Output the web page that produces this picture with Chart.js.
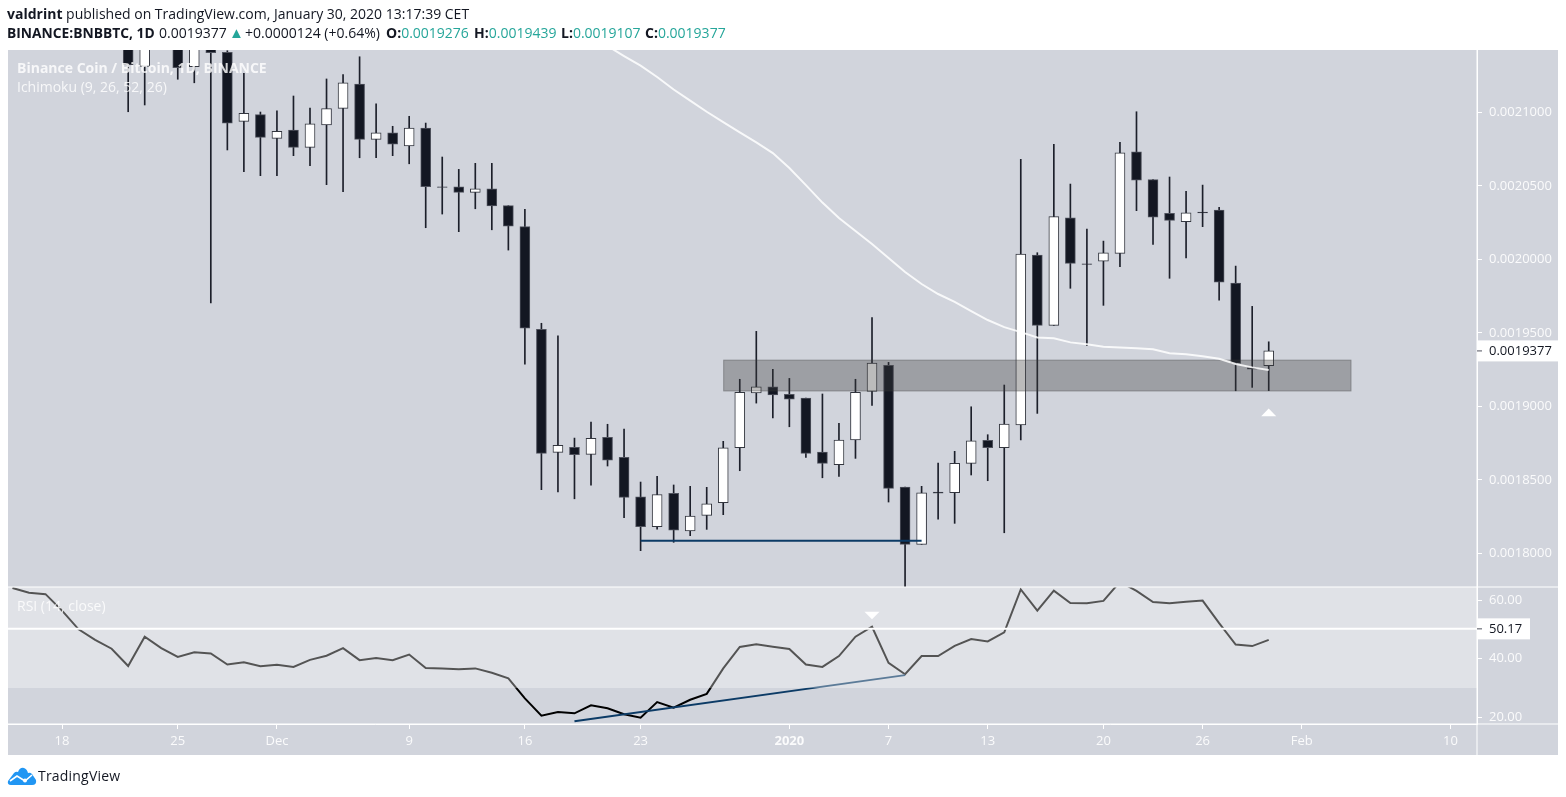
<!DOCTYPE html>
<html>
<head>
<meta charset="utf-8">
<title>BNBBTC</title>
<script src="https://cdn.jsdelivr.net/npm/chart.js@4"></script>
<style>
    html, body { margin: 0; padding: 0; background: #fff; width: 1566px; height: 797px; overflow: hidden; }
    body { font-family: "Open Sans", sans-serif; font-size: 14px; color: #131722; }
    #panel { position: absolute; left: 8px; top: 50px; width: 1550px; height: 705px; background: #d1d4dc; }
    canvas { position: absolute; left: 0; top: 0; }
    .t { position: absolute; white-space: nowrap; line-height: 18px; }
    .b { font-weight: 700; }
    .g { color: #26a69a; }
    .w { color: rgba(255, 255, 255, 0.82); }
</style>
</head>
<body>
<div id="panel"></div>
<canvas id="chart" width="1566" height="797"></canvas>

<div class="t" style="left:7px;top:5px"><span class="b">valdrint</span> published on TradingView.com, January 30, 2020 13:17:39 CET</div>
<div class="t b" style="left:7px;top:24px;font-size:13.8px">BINANCE:BNBBTC, 1D</div>
<div class="t" style="left:159px;top:24px">0.0019377</div>
<div class="t g" style="left:229px;top:23px;font-size:15px">&#9650;</div>
<div class="t" style="left:245px;top:24px">+0.0000124 (+0.64%)</div>
<div class="t" style="left:386px;top:24px"><span class="b">O:</span><span class="g">0.0019276</span></div>
<div class="t" style="left:474px;top:24px"><span class="b">H:</span><span class="g">0.0019439</span></div>
<div class="t" style="left:561px;top:24px"><span class="b">L:</span><span class="g">0.0019107</span></div>
<div class="t" style="left:645px;top:24px"><span class="b">C:</span><span class="g">0.0019377</span></div>

<div class="t w b" style="left:17px;top:59px">Binance Coin / Bitcoin, 1D, BINANCE</div>
<div class="t w" style="left:17px;top:78px">Ichimoku (9, 26, 52, 26)</div>
<div class="t w" style="left:17px;top:597px">RSI (14, close)</div>

<svg style="position:absolute;left:7px;top:767px" width="30" height="19" viewBox="0 0 30 19">
    <path d="M1 14 L7 6 Q9 4 11 5 Q13 0 17 1 Q20 2 21 6 Q23 5 25 7 L29 13 Q30 18 25 18 L4 18 Q0 18 1 14 Z" fill="#2196f3"/>
    <path d="M3 14 L10 9 L18 14 L25 8" fill="none" stroke="#fff" stroke-width="1.6"/>
    <circle cx="18" cy="13.5" r="2" fill="#fff"/>
</svg>
<div class="t" style="left:38px;top:767px;font-size:14px;letter-spacing:0.2px">TradingView</div>

<script>
// Prices are in units of 0.0000001 BTC, one entry per day
const firstCandleDay = -9; // day 0 = Dec 1 2019
const opens = [21492, 21312, 21600, 21526, 21310, 21440, 21408, 20939, 20984, 20823,
    20880, 20762, 20914, 21027, 21193, 20816, 20861, 20771, 20893, 20494,
    20494, 20456, 20480, 20365, 20222, 19524, 18687, 18721, 18673, 18789,
    18653, 18385, 18181, 18408, 18152, 18258, 18344, 18718, 19092, 19133,
    19082, 19056, 18689, 18603, 18771, 19102, 19279, 18451, 18061, 18417,
    18412, 18612, 18769, 18718, 18873, 20029, 19551, 20283, 19970, 19988,
    20041, 20732, 20542, 20313, 20256, 20322, 20335, 19839, 19263, 19276];
const highs = [21560, 21600, 21650, 21600, 21520, 21470, 21419, 21265, 21002, 21011,
    21111, 21029, 21227, 21256, 21378, 21057, 20905, 20973, 20927, 20696,
    20612, 20653, 20653, 20365, 20340, 19565, 19480, 18784, 18893, 18878,
    18846, 18485, 18524, 18465, 18456, 18449, 18762, 19184, 19510, 19252,
    19190, 19056, 19084, 18884, 19184, 19603, 19299, 18451, 18456, 18614,
    18694, 18997, 18807, 19145, 20680, 20045, 20782, 20512, 20206, 20124,
    20796, 21004, 20542, 20560, 20463, 20505, 20354, 19954, 19680, 19439];
const lows = [21004, 21050, 21440, 21225, 21201, 19703, 20744, 20596, 20569, 20569,
    20705, 20637, 20508, 20460, 20691, 20691, 20705, 20650, 20215, 20308,
    20188, 20344, 20201, 20063, 19286, 18433, 18417, 18371, 18463, 18594,
    18242, 18018, 18165, 18075, 18120, 18163, 18263, 18562, 19022, 18922,
    18861, 18653, 18514, 18524, 18646, 19007, 18349, 17740, 18061, 18233,
    18204, 18533, 18494, 18140, 18771, 18952, 19551, 19803, 19412, 19687,
    19950, 20331, 20102, 19871, 20009, 20222, 19723, 19106, 19129, 19107];
const closes = [21322, 21526, 21480, 21303, 21480, 21405, 20927, 20993, 20830, 20871,
    20762, 20922, 21025, 21201, 20816, 20861, 20784, 20893, 20494, 20490,
    20456, 20480, 20363, 20225, 19531, 18680, 18735, 18671, 18782, 18633,
    18381, 18181, 18399, 18158, 18254, 18337, 18718, 19095, 19133, 19077,
    19048, 18680, 18612, 18771, 19095, 19295, 18442, 18061, 18412, 18410,
    18612, 18766, 18718, 18880, 20036, 19551, 20290, 19973, 19965, 20045,
    20725, 20539, 20286, 20265, 20317, 20316, 19844, 19292, 19253, 19377];

// White moving average on the price pane
const avgFirstDay = 20;
const avgValues = [21451, 21383, 21318, 21240, 21155, 21080, 21004, 20934, 20864, 20795,
    20723, 20621, 20505, 20386, 20281, 20193, 20104, 20009, 19914, 19832,
    19764, 19710, 19648, 19587, 19539, 19505, 19469, 19463, 19435, 19422,
    19405, 19401, 19395, 19388, 19361, 19354, 19340, 19324, 19288, 19265, 19247];

const rsiFirstDay = -16;
const rsiValues = [64.1, 62.5, 62.0, 56.4, 50.0, 46.4, 43.4, 37.5, 47.5, 43.6,
    40.6, 42.2, 41.8, 38.0, 38.8, 37.4, 37.9, 37.2, 39.6, 41.0,
    43.6, 39.5, 40.2, 39.5, 41.4, 36.8, 36.7, 36.4, 36.7, 35.2,
    33.3, 26.5, 20.6, 21.8, 21.4, 24.1, 23.1, 21.1, 19.9, 25.2,
    23.3, 26.0, 28.0, 36.7, 44.0, 44.9, 44.1, 43.3, 38.0, 37.2,
    40.9, 47.5, 50.9, 38.6, 34.7, 40.9, 40.9, 44.4, 46.7, 45.9,
    49.0, 63.6, 56.4, 63.2, 59.0, 58.9, 59.7, 66.2, 63.1, 59.3,
    58.9, 59.4, 59.8, 52.1, 44.8, 44.3, 46.4];

// Drawn objects: [day, value] pairs
const supportLine = [[22, 18086], [39, 18086]];
const rsiTrendLine = [[18, 18.7], [38, 34.4]];
const rsiLevel = 50.17;
const zoneDays = [27, 65];
const zonePrices = [19102, 19317];
const rsiBand = [30, 70];
const priceArrow = [60, 18959];
const rsiArrow = [36, 54.7];
const lastPrice = 19377;

// Axes
const tickDays = [-13, -6, 0, 8, 15, 22, 31, 37, 43, 50, 56, 62, 71];
const tickLabels = ['18', '25', 'Dec', '9', '16', '23', '2020', '7', '13', '20', '26', 'Feb', '10'];
const priceTicks = [18000, 18500, 19000, 19500, 20000, 20500, 21000];
const rsiTicks = [20, 40, 60];

const axisColor = 'rgba(255,255,255,0.9)';
const axisFont = { family: '"Open Sans", sans-serif', size: 13 };

function fixAxisWidth(scale) {
    scale.width = 81;
}

function series(first, values) {
    return values.map((v, i) => ({ x: first + i, y: v }));
}

function flatTriangle(ctx, x, y, up) {
    const dir = up ? -1 : 1;
    ctx.beginPath();
    ctx.moveTo(x - 7.5, y - dir * 3.8);
    ctx.lineTo(x + 7.5, y - dir * 3.8);
    ctx.lineTo(x, y + dir * 3.8);
    ctx.closePath();
    ctx.fillStyle = '#fff';
    ctx.fill();
}

function priceTag(ctx, scale, y, text, width) {
    const x = scale.left;
    ctx.fillStyle = '#fff';
    ctx.fillRect(x, y - 10.5, width, 21);
    ctx.fillStyle = '#50535e';
    ctx.fillRect(x, y - 0.5, 5, 1);
    ctx.fillStyle = '#131722';
    ctx.font = '13px "Open Sans", sans-serif';
    ctx.textBaseline = 'middle';
    ctx.textAlign = 'left';
    ctx.fillText(text, x + 12, y);
}

// Zone and RSI band sit on top of the marks below them, so they hook in between datasets
const overlayPlugin = {
    id: 'overlays',
    afterDatasetDraw(chart, args) {
        const { ctx, scales } = chart;
        const { x, y, rsi } = scales;
        const label = chart.data.datasets[args.index].label;
        ctx.save();
        if (label === 'bodies') {
            const left = x.getPixelForValue(zoneDays[0]);
            const right = x.getPixelForValue(zoneDays[1]);
            const top = y.getPixelForValue(zonePrices[1]);
            const bottom = y.getPixelForValue(zonePrices[0]);
            ctx.fillStyle = 'rgba(60,60,60,0.35)';
            ctx.fillRect(left, top, right - left, bottom - top);
            ctx.strokeStyle = 'rgba(60,60,60,0.25)';
            ctx.strokeRect(left + 0.5, top + 0.5, right - left - 1, bottom - top - 1);
        }
        if (label === 'trend') {
            const top = Math.max(rsi.getPixelForValue(rsiBand[1]), rsi.top);
            const bottom = rsi.getPixelForValue(rsiBand[0]);
            ctx.fillStyle = 'rgba(255,255,255,0.33)';
            ctx.fillRect(x.left, top, x.right - x.left, bottom - top);
        }
        ctx.restore();
    },
    afterDraw(chart) {
        const { ctx, scales } = chart;
        const { x, y, rsi } = scales;
        ctx.save();
        // pane separators run the full width of the panel
        ctx.fillStyle = '#fff';
        ctx.fillRect(x.left, y.bottom - 0.5, 1550, 1);
        ctx.fillRect(x.left, rsi.bottom - 0.5, 1550, 1);
        ctx.fillRect(x.right - 0.5, y.top, 1, x.bottom - y.top);
        flatTriangle(ctx, x.getPixelForValue(priceArrow[0]), y.getPixelForValue(priceArrow[1]), true);
        flatTriangle(ctx, x.getPixelForValue(rsiArrow[0]), rsi.getPixelForValue(rsiArrow[1]), false);
        priceTag(ctx, y, y.getPixelForValue(lastPrice), (lastPrice / 1e7).toFixed(7), 81);
        priceTag(ctx, rsi, rsi.getPixelForValue(rsiLevel), rsiLevel.toFixed(2), 53);
        ctx.restore();
    }
};

const wicks = opens.map((o, i) => ({ x: firstCandleDay + i, y: [lows[i], highs[i]] }));
const bodies = opens.map((o, i) => ({ x: firstCandleDay + i, y: [o, closes[i]] }));
const isUp = opens.map((o, i) => closes[i] >= o);

new Chart(document.getElementById('chart'), {
    type: 'bar',
    data: {
        datasets: [
            {
                label: 'wicks', data: wicks, yAxisID: 'y', order: 10,
                barThickness: 1, backgroundColor: '#1c1f2a', grouped: false
            },
            {
                label: 'bodies', data: bodies, yAxisID: 'y', order: 9,
                barThickness: 10, borderWidth: 1, borderSkipped: false, grouped: false,
                backgroundColor: isUp.map(u => u ? '#ffffff' : '#131722'),
                borderColor: isUp.map(u => u ? '#33363f' : '#50535e')
            },
            {
                type: 'line', label: 'average', data: series(avgFirstDay, avgValues), yAxisID: 'y', order: 8,
                borderColor: 'rgba(255,255,255,0.85)', borderWidth: 2, pointRadius: 0
            },
            {
                type: 'line', label: 'support', data: supportLine.map(p => ({ x: p[0], y: p[1] })), yAxisID: 'y', order: 7,
                borderColor: '#0c3b66', borderWidth: 2, pointRadius: 0
            },
            {
                type: 'line', label: 'rsi', data: series(rsiFirstDay, rsiValues), yAxisID: 'rsi', order: 6,
                borderColor: '#000000', borderWidth: 2, pointRadius: 0
            },
            {
                type: 'line', label: 'trend', data: rsiTrendLine.map(p => ({ x: p[0], y: p[1] })), yAxisID: 'rsi', order: 5,
                borderColor: '#0c3b66', borderWidth: 2, pointRadius: 0
            },
            {
                type: 'line', label: 'level', data: [{ x: -16.27, y: rsiLevel }, { x: 72.6, y: rsiLevel }], yAxisID: 'rsi', order: 4,
                borderColor: '#ffffff', borderWidth: 2, pointRadius: 0
            }
        ]
    },
    options: {
        responsive: false,
        animation: false,
        layout: { padding: { left: 8, right: 8, top: 50, bottom: 42 } },
        plugins: { legend: { display: false }, tooltip: { enabled: false } },
        scales: {
            x: {
                type: 'linear',
                min: -16.27,
                max: 72.6,
                offset: false,
                grid: { drawOnChartArea: false, tickLength: 5, tickColor: '#fff', offset: false },
                border: { color: '#fff' },
                afterBuildTicks(scale) {
                    scale.ticks = tickDays.map(d => ({ value: d }));
                },
                afterFit(scale) {
                    scale.height = 31;
                },
                ticks: {
                    autoSkip: false,
                    maxRotation: 0,
                    padding: 4,
                    color: axisColor,
                    font: ctx => ({ ...axisFont, weight: ctx.index === 6 ? 'bold' : 'normal' }),
                    callback: (value, index) => tickLabels[index]
                }
            },
            y: {
                type: 'linear',
                position: 'right',
                stack: 'panes',
                stackWeight: 537,
                weight: 1,
                min: 17771,
                max: 21424,
                grid: { drawOnChartArea: false, tickLength: 5, tickColor: '#fff' },
                border: { color: '#fff' },
                afterFit: fixAxisWidth,
                afterBuildTicks(scale) {
                    scale.ticks = priceTicks.map(v => ({ value: v }));
                },
                ticks: {
                    padding: 7,
                    color: axisColor,
                    font: axisFont,
                    callback: v => (v / 1e7).toFixed(7)
                }
            },
            rsi: {
                type: 'linear',
                position: 'right',
                stack: 'panes',
                stackWeight: 137,
                weight: 2,
                min: 17.75,
                max: 64.43,
                grid: { drawOnChartArea: false, tickLength: 5, tickColor: '#fff' },
                border: { color: '#fff' },
                afterFit: fixAxisWidth,
                afterBuildTicks(scale) {
                    scale.ticks = rsiTicks.map(v => ({ value: v }));
                },
                ticks: {
                    padding: 7,
                    color: axisColor,
                    font: axisFont,
                    callback: v => v.toFixed(2)
                }
            }
        }
    },
    plugins: [overlayPlugin]
});
</script>
</body>
</html>
